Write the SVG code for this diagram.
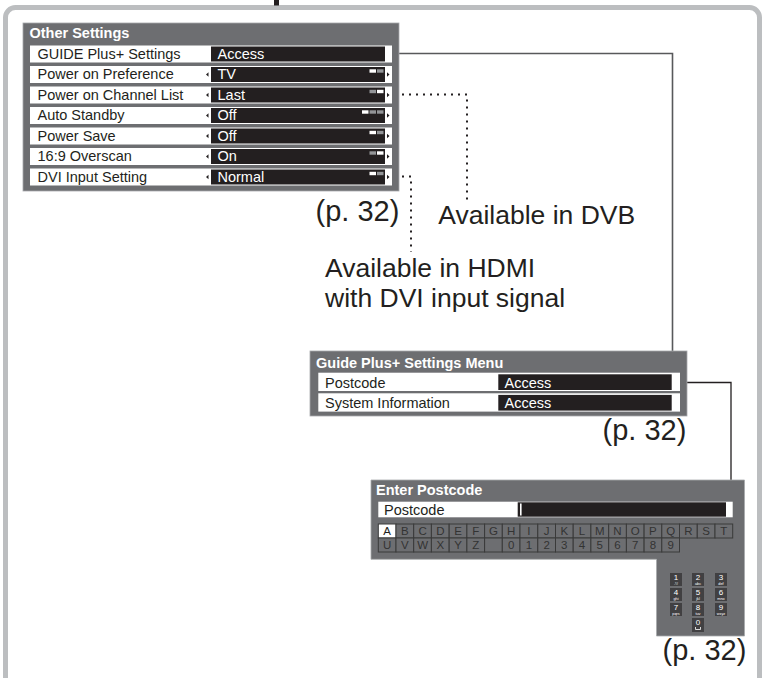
<svg xmlns="http://www.w3.org/2000/svg" width="762" height="678" viewBox="0 0 762 678">
<style>
text{font-family:"Liberation Sans",Arial,sans-serif}
.panel{fill:#6d6e71;stroke:#a7a9ac;stroke-width:0.8}
.row{fill:#fff}
.val{fill:#231f20}
.lbl{font-size:14.5px;fill:#231f20}
.vtx{font-size:14.5px;fill:#fff}
.ttl{font-size:14.5px;font-weight:bold;fill:#fff}
.big{font-size:26.5px;fill:#231f20}
.pg{font-size:29px;fill:#231f20}
.conn{fill:none;stroke:#58595b;stroke-width:1.6}
.conn2{fill:none;stroke:#231f20;stroke-width:1.3}
.dot{fill:none;stroke:#231f20;stroke-width:2;stroke-dasharray:2 5}
.key{fill:#6d6e71;stroke:#3a3a3a;stroke-width:1}
.keyA{fill:#fff;stroke:#3a3a3a;stroke-width:1}
.ktx{font-size:11.5px;fill:#333;text-anchor:middle}
.pad{fill:#414042}
.pd{font-size:8px;fill:#fff;text-anchor:middle}
.ps{font-size:3.8px;fill:#fff;text-anchor:middle}
.bw{fill:#fff}
.bg{fill:#939598}
.arr{fill:#231f20}
</style>

<!-- outer frame -->
<rect x="5.5" y="7.5" width="754" height="700" rx="10" fill="#fff" stroke="#bcbec0" stroke-width="5"/>
<rect x="274" y="0" width="5" height="5.5" fill="#231f20"/>

<!-- connectors -->
<g id="connectors">
  <path class="conn" d="M399,53.5 H672.5 V351"/>
  <path class="dot" d="M402,94.5 H467 V200"/>
  <path class="dot" d="M402,176.5 H411 V252"/>
  <path class="conn2" d="M687,382.5 H731 V480"/>
</g>

<!-- Other Settings -->
<g id="other-settings">
  <rect class="panel" x="23" y="23" width="376" height="168"/>
  <text class="ttl" x="29.5" y="37.5">Other Settings</text>

  <rect class="row" x="30" y="45.5" width="362" height="17"/>
  <rect class="val" x="211" y="46.5" width="174" height="15"/>
  <text class="lbl" x="37.5" y="58.8">GUIDE Plus+ Settings</text>
  <text class="vtx" x="217.5" y="58.8">Access</text>

  <rect class="row" x="30" y="66" width="362" height="17"/>
  <rect class="val" x="211" y="67" width="174" height="15"/>
  <polygon class="arr" points="206,74.5 208.5,72.3 208.5,76.7"/>
  <polygon class="arr" points="389.5,74.5 387,72.3 387,76.7"/>
  <rect class="bw" x="369.5" y="69.3" width="6.5" height="3.4"/>
  <rect class="bg" x="377" y="69.3" width="6.5" height="3.4"/>
  <text class="lbl" x="37.5" y="79.3">Power on Preference</text>
  <text class="vtx" x="217.5" y="79.3">TV</text>

  <rect class="row" x="30" y="86.5" width="362" height="17"/>
  <rect class="val" x="211" y="87.5" width="174" height="15"/>
  <polygon class="arr" points="206,95 208.5,92.8 208.5,97.2"/>
  <polygon class="arr" points="389.5,95 387,92.8 387,97.2"/>
  <rect class="bg" x="369.5" y="89.8" width="6.5" height="3.4"/>
  <rect class="bw" x="377" y="89.8" width="6.5" height="3.4"/>
  <text class="lbl" x="37.5" y="99.8">Power on Channel List</text>
  <text class="vtx" x="217.5" y="99.8">Last</text>

  <rect class="row" x="30" y="107" width="362" height="17"/>
  <rect class="val" x="211" y="108" width="174" height="15"/>
  <polygon class="arr" points="206,115.5 208.5,113.3 208.5,117.7"/>
  <polygon class="arr" points="389.5,115.5 387,113.3 387,117.7"/>
  <rect class="bw" x="362" y="110.3" width="6.5" height="3.4"/>
  <rect class="bg" x="369.5" y="110.3" width="6.5" height="3.4"/>
  <rect class="bg" x="377" y="110.3" width="6.5" height="3.4"/>
  <text class="lbl" x="37.5" y="120.3">Auto Standby</text>
  <text class="vtx" x="217.5" y="120.3">Off</text>

  <rect class="row" x="30" y="127.5" width="362" height="17"/>
  <rect class="val" x="211" y="128.5" width="174" height="15"/>
  <polygon class="arr" points="206,136 208.5,133.8 208.5,138.2"/>
  <polygon class="arr" points="389.5,136 387,133.8 387,138.2"/>
  <rect class="bw" x="369.5" y="130.8" width="6.5" height="3.4"/>
  <rect class="bg" x="377" y="130.8" width="6.5" height="3.4"/>
  <text class="lbl" x="37.5" y="140.8">Power Save</text>
  <text class="vtx" x="217.5" y="140.8">Off</text>

  <rect class="row" x="30" y="148" width="362" height="17"/>
  <rect class="val" x="211" y="149" width="174" height="15"/>
  <polygon class="arr" points="206,156.5 208.5,154.3 208.5,158.7"/>
  <polygon class="arr" points="389.5,156.5 387,154.3 387,158.7"/>
  <rect class="bg" x="369.5" y="151.3" width="6.5" height="3.4"/>
  <rect class="bw" x="377" y="151.3" width="6.5" height="3.4"/>
  <text class="lbl" x="37.5" y="161.3">16:9 Overscan</text>
  <text class="vtx" x="217.5" y="161.3">On</text>

  <rect class="row" x="30" y="168.5" width="362" height="17"/>
  <rect class="val" x="211" y="169.5" width="174" height="15"/>
  <polygon class="arr" points="206,177 208.5,174.8 208.5,179.2"/>
  <polygon class="arr" points="389.5,177 387,174.8 387,179.2"/>
  <rect class="bw" x="369.5" y="171.8" width="6.5" height="3.4"/>
  <rect class="bg" x="377" y="171.8" width="6.5" height="3.4"/>
  <text class="lbl" x="37.5" y="181.8">DVI Input Setting</text>
  <text class="vtx" x="217.5" y="181.8">Normal</text>
</g>

<g id="notes">
  <text class="pg" x="315.5" y="221">(p. 32)</text>
  <text class="big" x="438.3" y="224.3">Available in DVB</text>
  <text class="big" x="325" y="276.7">Available in HDMI</text>
  <text class="big" x="325" y="306.7">with DVI input signal</text>
</g>

<!-- Guide Plus+ Settings Menu -->
<g id="guide-menu">
  <rect class="panel" x="310" y="351" width="377" height="65"/>
  <text class="ttl" x="316" y="367.5">Guide Plus+ Settings Menu</text>
  <rect class="row" x="318.3" y="372.7" width="361.7" height="18.3"/>
  <rect class="val" x="498.3" y="374.3" width="173.4" height="15.7"/>
  <text class="lbl" x="325" y="387.7">Postcode</text>
  <text class="vtx" x="504.5" y="387.7">Access</text>
  <rect class="row" x="318.3" y="393.3" width="361.7" height="18.3"/>
  <rect class="val" x="498.3" y="394.9" width="173.4" height="15.7"/>
  <text class="lbl" x="325" y="408.3">System Information</text>
  <text class="vtx" x="504.5" y="408.3">Access</text>
  <text class="pg" x="602.5" y="440">(p. 32)</text>
</g>

<!-- Enter Postcode -->
<g id="enter-postcode">
  <path class="panel" d="M371,480 H744.5 V636 H656.5 V559.3 H371 Z"/>
  <text class="ttl" x="376" y="495">Enter Postcode</text>
  <rect class="row" x="378.3" y="501.7" width="354.4" height="15.6"/>
  <rect class="val" x="517.7" y="502.3" width="208.3" height="14.4"/>
  <rect class="bw" x="520" y="503.5" width="1.6" height="12"/>
  <text class="lbl" x="384" y="515">Postcode</text>

  <g id="keyboard">
    <rect class="keyA" x="378.3" y="524" width="17.7" height="14"/>
    <rect class="key" x="396" y="524" width="17.7" height="14"/>
    <rect class="key" x="413.7" y="524" width="17.7" height="14"/>
    <rect class="key" x="431.4" y="524" width="17.7" height="14"/>
    <rect class="key" x="449.2" y="524" width="17.7" height="14"/>
    <rect class="key" x="466.9" y="524" width="17.7" height="14"/>
    <rect class="key" x="484.6" y="524" width="17.7" height="14"/>
    <rect class="key" x="502.3" y="524" width="17.7" height="14"/>
    <rect class="key" x="520" y="524" width="17.7" height="14"/>
    <rect class="key" x="537.8" y="524" width="17.7" height="14"/>
    <rect class="key" x="555.5" y="524" width="17.7" height="14"/>
    <rect class="key" x="573.2" y="524" width="17.7" height="14"/>
    <rect class="key" x="590.9" y="524" width="17.7" height="14"/>
    <rect class="key" x="608.7" y="524" width="17.7" height="14"/>
    <rect class="key" x="626.4" y="524" width="17.7" height="14"/>
    <rect class="key" x="644.1" y="524" width="17.7" height="14"/>
    <rect class="key" x="661.8" y="524" width="17.7" height="14"/>
    <rect class="key" x="679.5" y="524" width="17.7" height="14"/>
    <rect class="key" x="697.3" y="524" width="17.7" height="14"/>
    <rect class="key" x="715" y="524" width="17.7" height="14"/>

    <rect class="key" x="378.3" y="538" width="17.7" height="14"/>
    <rect class="key" x="396" y="538" width="17.7" height="14"/>
    <rect class="key" x="413.7" y="538" width="17.7" height="14"/>
    <rect class="key" x="431.4" y="538" width="17.7" height="14"/>
    <rect class="key" x="449.2" y="538" width="17.7" height="14"/>
    <rect class="key" x="466.9" y="538" width="17.7" height="14"/>
    <rect class="key" x="484.6" y="538" width="17.7" height="14"/>
    <rect class="key" x="502.3" y="538" width="17.7" height="14"/>
    <rect class="key" x="520" y="538" width="17.7" height="14"/>
    <rect class="key" x="537.8" y="538" width="17.7" height="14"/>
    <rect class="key" x="555.5" y="538" width="17.7" height="14"/>
    <rect class="key" x="573.2" y="538" width="17.7" height="14"/>
    <rect class="key" x="590.9" y="538" width="17.7" height="14"/>
    <rect class="key" x="608.7" y="538" width="17.7" height="14"/>
    <rect class="key" x="626.4" y="538" width="17.7" height="14"/>
    <rect class="key" x="644.1" y="538" width="17.7" height="14"/>
    <rect class="key" x="661.8" y="538" width="17.7" height="14"/>

    <text class="ktx" y="535.3"><tspan x="387.2" fill="#231f20">A</tspan><tspan x="404.9">B</tspan><tspan x="422.6">C</tspan><tspan x="440.3">D</tspan><tspan x="458">E</tspan><tspan x="475.7">F</tspan><tspan x="493.4">G</tspan><tspan x="511.2">H</tspan><tspan x="528.9">I</tspan><tspan x="546.6">J</tspan><tspan x="564.3">K</tspan><tspan x="582">L</tspan><tspan x="599.8">M</tspan><tspan x="617.5">N</tspan><tspan x="635.2">O</tspan><tspan x="652.9">P</tspan><tspan x="670.7">Q</tspan><tspan x="688.4">R</tspan><tspan x="706.1">S</tspan><tspan x="723.8">T</tspan></text>
    <text class="ktx" y="549.3"><tspan x="387.2">U</tspan><tspan x="404.9">V</tspan><tspan x="422.6">W</tspan><tspan x="440.3">X</tspan><tspan x="458">Y</tspan><tspan x="475.7">Z</tspan><tspan x="511.2">0</tspan><tspan x="528.9">1</tspan><tspan x="546.6">2</tspan><tspan x="564.3">3</tspan><tspan x="582">4</tspan><tspan x="599.8">5</tspan><tspan x="617.5">6</tspan><tspan x="635.2">7</tspan><tspan x="652.9">8</tspan><tspan x="670.7">9</tspan></text>
  </g>

  <g id="keypad">
    <rect class="pad" x="670" y="573" width="12" height="13"/>
    <rect class="pad" x="692" y="573" width="12" height="13"/>
    <rect class="pad" x="715" y="573" width="12" height="13"/>
    <rect class="pad" x="670" y="588" width="12" height="13"/>
    <rect class="pad" x="692" y="588" width="12" height="13"/>
    <rect class="pad" x="715" y="588" width="12" height="13"/>
    <rect class="pad" x="670" y="603" width="12" height="13"/>
    <rect class="pad" x="692" y="603" width="12" height="13"/>
    <rect class="pad" x="715" y="603" width="12" height="13"/>
    <rect class="pad" x="692" y="618" width="12" height="14"/>
    <text class="pd" x="676" y="580">1</text><text class="ps" x="676" y="585">.!#</text>
    <text class="pd" x="698" y="580">2</text><text class="ps" x="698" y="585">abc</text>
    <text class="pd" x="721" y="580">3</text><text class="ps" x="721" y="585">def</text>
    <text class="pd" x="676" y="595">4</text><text class="ps" x="676" y="600">ghi</text>
    <text class="pd" x="698" y="595">5</text><text class="ps" x="698" y="600">jkl</text>
    <text class="pd" x="721" y="595">6</text><text class="ps" x="721" y="600">mno</text>
    <text class="pd" x="676" y="610">7</text><text class="ps" x="676" y="615">pqrs</text>
    <text class="pd" x="698" y="610">8</text><text class="ps" x="698" y="615">tuv</text>
    <text class="pd" x="721" y="610">9</text><text class="ps" x="721" y="615">wxyz</text>
    <text class="pd" x="698" y="625">0</text>
    <path d="M695.5,627 V629.5 H700.5 V627" fill="none" stroke="#fff" stroke-width="0.8"/>
  </g>
  <text class="pg" x="662.5" y="660">(p. 32)</text>
</g>
</svg>
